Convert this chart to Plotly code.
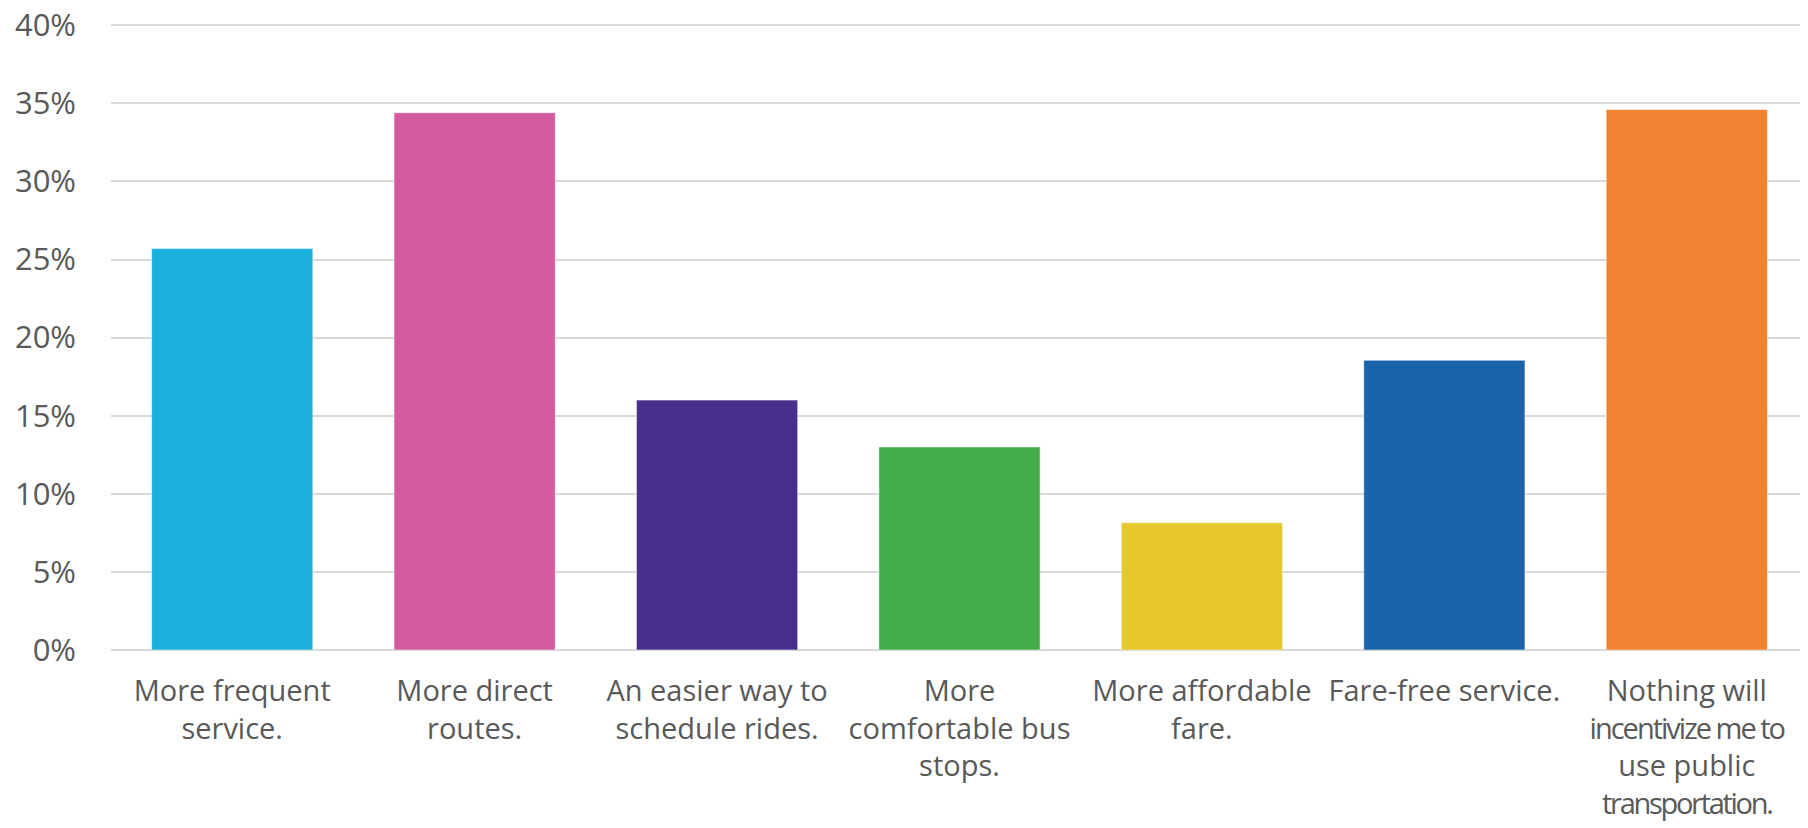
import plotly.graph_objects as go

categories = [
    "More frequent<br>service.",
    "More direct<br>routes.",
    "An easier way to<br>schedule rides.",
    "More<br>comfortable bus<br>stops.",
    "More affordable<br>fare.",
    "Fare-free service.",
    "Nothing will<br><span style='letter-spacing:-2px'>incentivize me to</span><br>use public<br>"
    "<span style='letter-spacing:-2.3px'>transportation.</span>",
]
values = [25.7, 34.4, 16.0, 13.0, 8.15, 18.55, 34.6]
colors = ["#19B0DB", "#D35A9F", "#482F8E", "#44AC4B", "#E6C82E", "#1B64AB", "#F08230"]
y_ticks = [0, 5, 10, 15, 20, 25, 30, 35, 40]
y_tick_labels = [f"{v}%" for v in y_ticks]

fig = go.Figure(
    go.Bar(
        x=categories,
        y=values,
        marker=dict(color=colors, line=dict(color="rgba(255,255,255,0.5)", width=1)),
        hoverinfo="skip",
    )
)

fig.update_layout(
    width=1808,
    height=828,
    margin=dict(l=103, r=8, t=16, b=186),
    paper_bgcolor="white",
    plot_bgcolor="white",
    bargap=0.335,
    showlegend=False,
    font=dict(family="Open Sans", color="#595959"),
)
fig.update_yaxes(
    range=[0, 40.08],
    tickvals=y_ticks,
    ticktext=y_tick_labels,
    showgrid=True,
    gridcolor="#D9D9D9",
    gridwidth=2,
    zeroline=True,
    zerolinecolor="#D9D9D9",
    zerolinewidth=2,
    showline=False,
    tickfont=dict(size=31, color="#595959"),
    ticklabelstandoff=34,
    ticklabeloverflow="allow",
    automargin=False,
)
fig.update_xaxes(
    showline=False,
    showgrid=False,
    tickfont=dict(size=29, color="#595959"),
    ticklabelstandoff=21,
    ticklabeloverflow="allow",
    tickangle=0,
    automargin=False,
)

fig.write_html("out.html")
